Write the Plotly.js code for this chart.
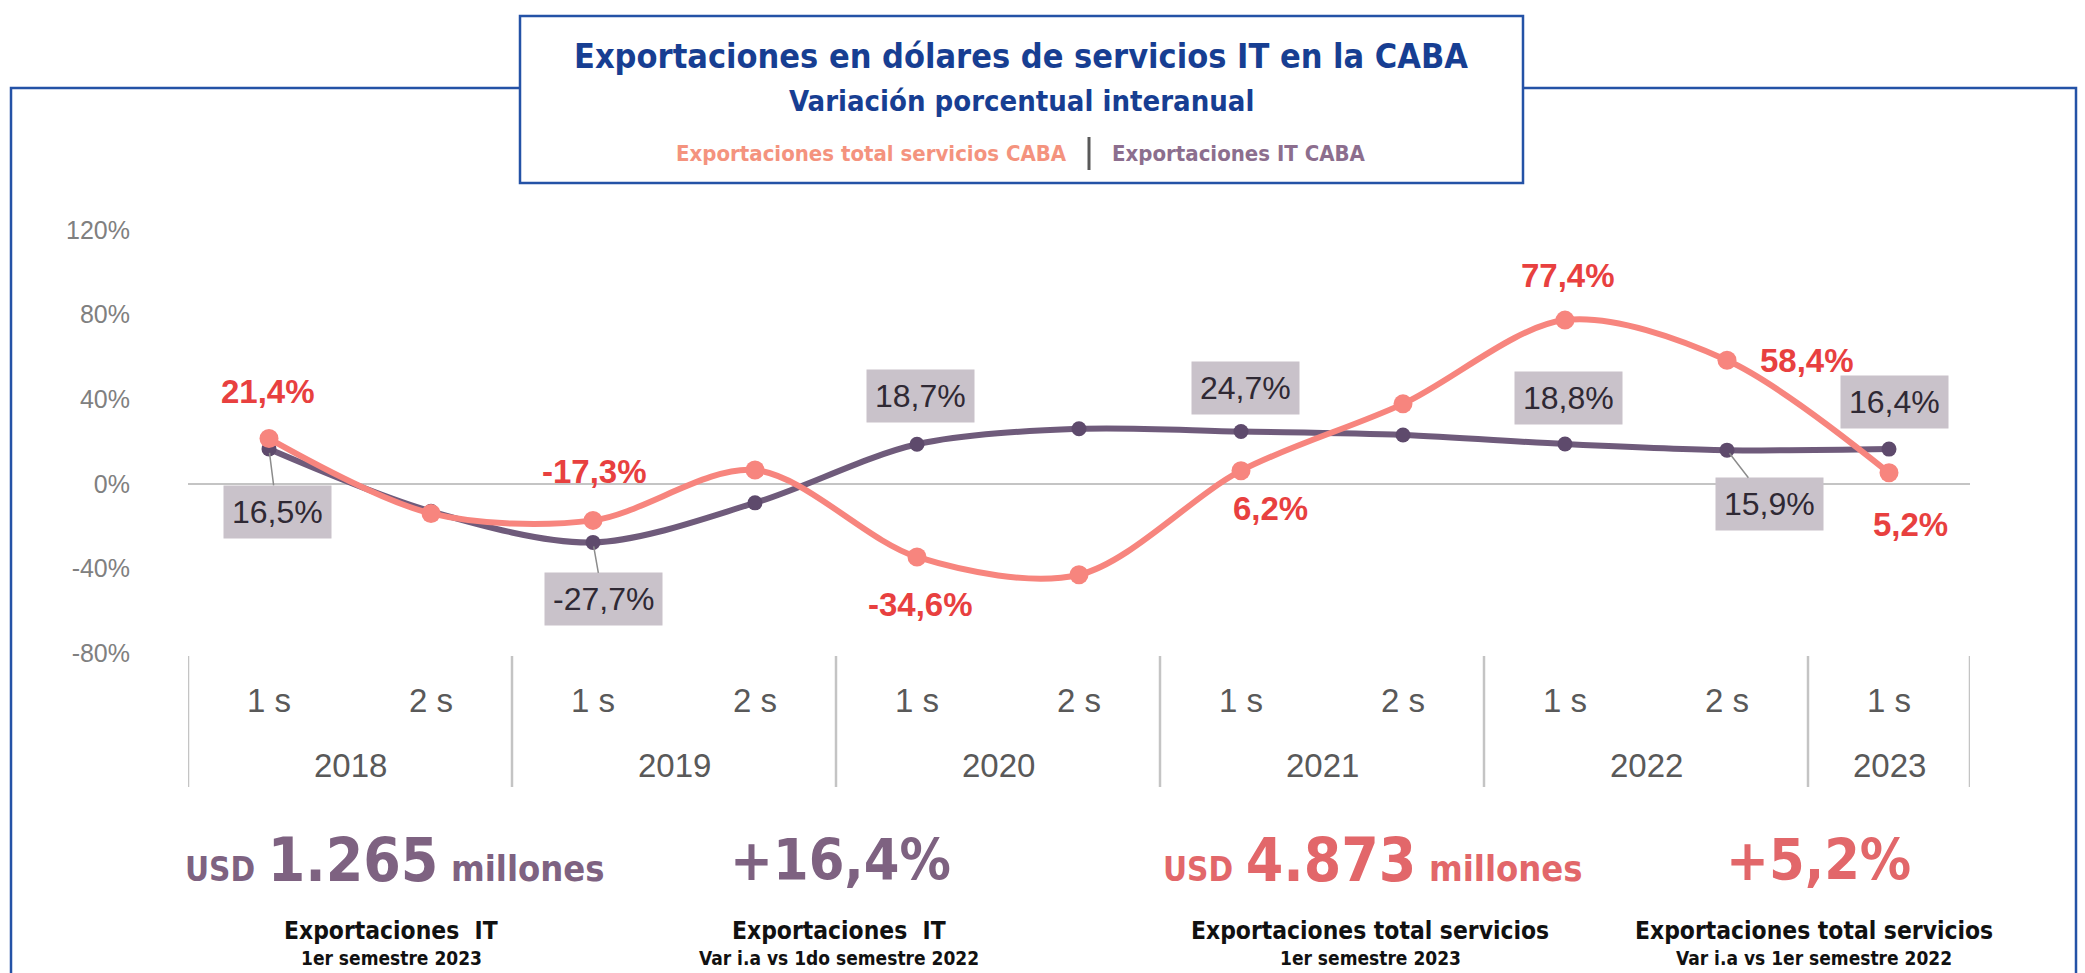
<!DOCTYPE html>
<html><head><meta charset="utf-8">
<script src="https://cdn.plot.ly/plotly-3.0.1.min.js"></script>
<style>html,body{margin:0;padding:0;background:#fff;overflow:hidden} #chart{width:2085px;height:973px;}</style>
</head><body><div id="chart"></div>
<script>
// ---------- DATA ----------
const semesters   = ['1 s','2 s','1 s','2 s','1 s','2 s','1 s','2 s','1 s','2 s','1 s'];
const periodYears = ['2018','2018','2019','2019','2020','2020','2021','2021','2022','2022','2023'];
const totalServicios = [21.4, -14.0, -17.3, 6.5, -34.6, -43.0, 6.2, 37.8, 77.4, 58.4, 5.2];
const exportIT       = [16.5, -13.0, -27.7, -9.0, 18.7, 26.0, 24.7, 23.1, 18.8, 15.9, 16.4];
const totalLabeled = [0, 2, 4, 6, 8, 9, 10];
const itLabeled    = [0, 2, 4, 6, 8, 9, 10];
const yTicks = [-80, -40, 0, 40, 80, 120];

const titleText = 'Exportaciones en dólares de servicios IT en la CABA';
const subtitleText = 'Variación porcentual interanual';
const legendTotal = 'Exportaciones total servicios CABA';
const legendIT = 'Exportaciones IT CABA';

const kpiValues = ['1.265', '+16,4%', '4.873', '+5,2%'];
const kpiTitles = ['Exportaciones&nbsp;&nbsp;IT', 'Exportaciones&nbsp;&nbsp;IT', 'Exportaciones total servicios', 'Exportaciones total servicios'];
const kpiSubs = ['1er semestre 2023', 'Var i.a vs 1do semestre 2022', '1er semestre 2023', 'Var i.a vs 1er semestre 2022'];

// ---------- STYLE ----------
const W = 2085, H = 973;
const M = {l: 188, r: 115, t: 230, b: 320};
const PW = W - M.l - M.r, PH = H - M.t - M.b;
const xp = px => (px - M.l) / PW;
const yp = py => (H - M.b - py) / PH;

const cOrange = '#F7857E', cPurple = '#6F5B7B';
const cRedLbl = '#E8403F', cBox = '#C9C2CA', cBoxTxt = '#2F2934';
const cBlue = '#173E92', cFrame = '#2452A6';
const tahoma = '"DejaVu Sans Condensed", "DejaVu Sans", sans-serif';
const arial = '"Liberation Sans", Arial, sans-serif';

const cats = periodYears.map((y, i) => y + ' ' + semesters[i]);
const fmt = v => v.toFixed(1).replace('.', ',') + '%';

const traces = [
  {x: cats, y: exportIT, type: 'scatter', mode: 'lines+markers', name: legendIT,
   line: {color: cPurple, width: 6, shape: 'spline', smoothing: 0.9},
   marker: {color: '#5E4A6C', size: 15}, hoverinfo: 'skip'},
  {x: cats, y: totalServicios, type: 'scatter', mode: 'lines+markers', name: legendTotal,
   line: {color: cOrange, width: 6, shape: 'spline', smoothing: 0.9},
   marker: {color: cOrange, size: 19}, hoverinfo: 'skip'}
];

const totalOff = [[-1,-47],[1,-49],[3,48],[29,38],[3,-45],[80,0],[21,52]];
const itOff    = [[8,63],[10,57],[3,-48],[4,-44],[3,-46],[42,54],[5,-47]];
const itLeader = [true, true, false, false, false, true, false];

const annotations = [];
totalLabeled.forEach((idx, k) => {
  annotations.push({x: cats[idx], y: totalServicios[idx], xref: 'x', yref: 'y',
    text: '<b>' + fmt(totalServicios[idx]) + '</b>', showarrow: true, arrowcolor: 'rgba(0,0,0,0)',
    ax: totalOff[k][0], ay: totalOff[k][1], font: {family: arial, size: 33, color: cRedLbl}});
});
itLabeled.forEach((idx, k) => {
  annotations.push({x: cats[idx], y: exportIT[idx], xref: 'x', yref: 'y',
    text: fmt(exportIT[idx]), showarrow: true,
    arrowcolor: itLeader[k] ? '#8C8C8C' : 'rgba(0,0,0,0)', arrowwidth: 1.5, arrowhead: 0, standoff: 4,
    ax: itOff[k][0], ay: itOff[k][1], bgcolor: cBox, borderpad: 8,
    font: {family: arial, size: 32, color: cBoxTxt}});
});

const A = (o) => Object.assign({xref: 'paper', yref: 'paper', showarrow: false, xanchor: 'center', yanchor: 'middle'}, o);

// year labels and separators
const shapes = [];
const uniqYears = [...new Set(periodYears)];
shapes.push({type: 'rect', xref: 'paper', yref: 'paper', x0: xp(11), x1: xp(2076), y0: yp(1000), y1: yp(88),
  line: {color: cFrame, width: 2.5}, fillcolor: 'rgba(0,0,0,0)', layer: 'below'});
uniqYears.forEach(yr => {
  const idx = periodYears.map((p, i) => p === yr ? i : -1).filter(i => i >= 0);
  const mid = (idx[0] + idx[idx.length - 1]) / 2;
  annotations.push(A({x: mid, y: yp(765), xref: 'x', text: yr,
    font: {family: arial, size: 33, color: '#595959'}}));
  shapes.push({type: 'line', xref: 'x', yref: 'paper', x0: idx[0] - 0.5, x1: idx[0] - 0.5,
    y0: yp(656), y1: yp(787), line: {color: '#C4C4C4', width: 2.5}});
});
shapes.push({type: 'line', xref: 'x', yref: 'paper', x0: cats.length - 0.5, x1: cats.length - 0.5,
  y0: yp(656), y1: yp(787), line: {color: '#C4C4C4', width: 2.5}});

// title box
shapes.push({type: 'rect', xref: 'paper', yref: 'paper', x0: xp(520), x1: xp(1523), y0: yp(183), y1: yp(16),
  line: {color: cFrame, width: 2.5}, fillcolor: '#FFFFFF'});
shapes.push({type: 'line', xref: 'paper', yref: 'paper', x0: xp(1089), x1: xp(1089), y0: yp(170), y1: yp(137),
  line: {color: '#595959', width: 3}});

annotations.push(A({x: xp(1021), y: yp(56), text: '<b>' + titleText + '</b>',
  font: {family: tahoma, size: 34, color: cBlue}}));
annotations.push(A({x: xp(1021), y: yp(101), text: '<b>' + subtitleText + '</b>',
  font: {family: tahoma, size: 29, color: cBlue}}));
annotations.push(A({x: xp(1069), y: yp(153), xanchor: 'right', text: '<b>' + legendTotal + '</b>',
  font: {family: tahoma, size: 22, color: '#F4937E'}}));
annotations.push(A({x: xp(1110), y: yp(153), xanchor: 'left', text: '<b>' + legendIT + '</b>',
  font: {family: tahoma, size: 22, color: '#8C6E8E'}}));

// KPI blocks
const kpiX = [395, 840, 1373, 1818];
const kpiTX = [391, 839, 1370, 1814];
const kpiColors = ['#7E6281', '#7E6281', '#E2676A', '#E2676A'];
kpiValues.forEach((v, i) => {
  let txt;
  if (i % 2 === 0) {
    txt = '<b><span style="font-size:33px">USD</span>&nbsp;<span style="font-size:60px">' + v + '</span>' +
          '&nbsp;<span style="font-size:36px">millones</span></b>';
  } else {
    txt = '<b>' + v + '</b>';
  }
  annotations.push(A({x: xp(kpiX[i]), y: yp(860), text: txt,
    font: {family: tahoma, size: i % 2 === 0 ? 40 : 57, color: kpiColors[i]}}));
  annotations.push(A({x: xp(kpiTX[i]), y: yp(931), text: '<b>' + kpiTitles[i] + '</b>',
    font: {family: tahoma, size: 24.4, color: '#111111'}}));
  annotations.push(A({x: xp(kpiTX[i]), y: yp(958), text: '<b>' + kpiSubs[i] + '</b>',
    font: {family: tahoma, size: 19, color: '#111111'}}));
});

const layout = {
  width: W, height: H, margin: M, paper_bgcolor: '#FFFFFF', plot_bgcolor: '#FFFFFF',
  showlegend: false,
  xaxis: {type: 'category', tickvals: cats, ticktext: semesters, showgrid: false, showline: false, zeroline: false,
    ticks: '', ticklabelstandoff: 25, tickfont: {family: arial, size: 33, color: '#595959'}, range: [-0.5, cats.length - 0.5]},
  yaxis: {range: [-80, 120], tickvals: yTicks, ticktext: yTicks.map(v => v + '%'), showgrid: false, showline: false,
    zeroline: true, zerolinecolor: '#C4C4C4', zerolinewidth: 2.5, ticks: '', ticklabelstandoff: 57,
    tickfont: {family: arial, size: 25, color: '#808080'}},
  annotations: annotations, shapes: shapes
};
Plotly.newPlot('chart', traces, layout, {displayModeBar: false, staticPlot: true});
</script></body></html>
